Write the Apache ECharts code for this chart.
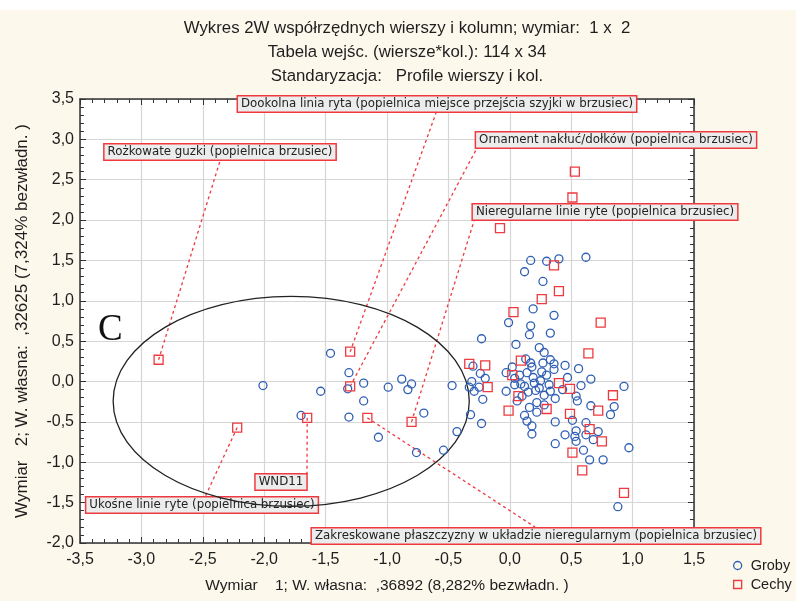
<!DOCTYPE html>
<html>
<head>
<meta charset="utf-8">
<script src="https://cdn.jsdelivr.net/npm/echarts@6/dist/echarts.min.js"></script>
<style>
  html, body { margin: 0; padding: 0; background: #fff; }
  #chart { width: 796px; height: 601px; }
</style>
</head>
<body>
<div id="chart"></div>
<script>
// Wymiar 1 / Wymiar 2 coordinates
const groby = [
  [-1.46, 0.35], [-2.01, -0.05], [-1.54, -0.12], [-1.31, 0.11], [-1.32, -0.09], [-1.19, -0.02],
  [-1.19, -0.24], [-0.99, -0.07], [-0.88, 0.03], [-0.80, -0.03], [-0.83, -0.10], [-0.47, -0.05],
  [-0.70, -0.39], [-1.31, -0.44], [-1.70, -0.42], [-1.07, -0.69], [-0.76, -0.88], [-0.54, -0.85],
  [-0.43, -0.62],
  [0.17, 1.50], [0.30, 1.49], [0.40, 1.52], [0.62, 1.54], [0.12, 1.36], [0.27, 1.24], [0.19, 0.90],
  [0.36, 0.82], [-0.01, 0.73], [0.17, 0.69], [0.16, 0.58], [0.33, 0.60], [-0.23, 0.53], [0.05, 0.46],
  [0.24, 0.42], [0.28, 0.36], [0.33, 0.27], [0.17, 0.23], [0.27, 0.23], [0.36, 0.22], [0.45, 0.20],
  [0.56, 0.16], [0.36, 0.15], [-0.30, 0.19], [-0.24, 0.10], [-0.03, 0.11], [0.14, 0.11], [0.25, 0.01],
  [-0.20, 0.04], [0.04, 0.04], [0.19, 0.05], [0.66, 0.03], [-0.31, 0.00], [-0.33, -0.07], [-0.25, -0.07],
  [0.04, -0.04], [0.09, -0.03], [0.32, -0.04], [0.93, -0.06], [-0.29, -0.12], [-0.03, -0.12], [0.15, -0.13],
  [0.21, -0.11], [0.28, -0.17], [0.37, -0.21], [0.54, -0.18], [-0.22, -0.22],
  [-0.32, -0.41], [-0.23, -0.52], [0.22, -0.26], [0.28, -0.29], [0.22, -0.38], [0.55, -0.24], [0.66, -0.30],
  [0.85, -0.31], [0.82, -0.41], [0.12, -0.42], [0.14, -0.49], [0.18, -0.55], [0.18, -0.65], [0.37, -0.50],
  [0.51, -0.48], [0.62, -0.51], [0.72, -0.62], [0.45, -0.66], [0.54, -0.61], [0.53, -0.68], [0.54, -0.74],
  [0.62, -0.66], [0.68, -0.72], [0.60, -0.85], [0.37, -0.77], [0.97, -0.82], [0.65, -0.97], [0.76, -0.97],
  [0.88, -1.55],
  [0.08, 0.08], [0.12, -0.06], [0.20, -0.02], [0.24, -0.08], [0.10, -0.18], [0.18, 0.18], [0.30, 0.08],
  [0.13, 0.28], [0.43, -0.10], [0.06, -0.24], [0.26, 0.12], [0.02, 0.18], [0.47, 0.05], [0.16, -0.32],
  [0.33, -0.12], [0.58, -0.05]
]

const cechy = [
  [-2.86, 0.27], [-2.22, -0.57], [-1.65, -0.45], [-1.30, 0.37], [-1.30, -0.06], [-1.16, -0.45], [-0.80, -0.50],
  [0.53, 2.60], [0.51, 2.28], [-0.08, 1.90], [0.36, 1.44], [0.40, 1.12], [0.26, 1.02], [0.03, 0.86],
  [0.74, 0.73], [0.64, 0.35], [-0.33, 0.22], [-0.20, 0.20], [0.09, 0.26], [0.02, 0.08], [-0.18, -0.07],
  [0.40, -0.02], [0.49, -0.09], [0.84, -0.17], [0.07, -0.18], [-0.01, -0.36], [0.30, -0.34], [0.49, -0.40],
  [0.72, -0.36], [0.65, -0.59], [0.75, -0.74], [0.51, -0.88], [0.59, -1.10], [0.93, -1.38]
]

// labelled features (index into cechy)
const noteIdx = [0, 1, 2, 3, 4, 5, 6]
const noteText = [
  'Rożkowate guzki (popielnica brzusiec)',
  'Ukośne linie ryte (popielnica brzusiec)',
  'WND11',
  'Dookolna linia ryta (popielnica miejsce przejścia szyjki w brzusiec)',
  'Ornament nakłuć/dołków (popielnica brzusiec)',
  'Zakreskowane płaszczyzny w układzie nieregularnym (popielnica brzusiec)',
  'Nieregularne linie ryte (popielnica brzusiec)'
]

const xTicks = { min: -3.5, max: 1.5, step: 0.5 }
const yTicks = { min: -2.0, max: 3.5, step: 0.5 }

// ellipse around group C: centre and radii in axis units
const ellipseC = [[-1.78, -0.245, 1.45, 1.30]]

// where the label boxes sit (pixels): box centre + point where the leader line meets it
const noteBox = [
  { x: 220, y: 152, ax: 220, ay: 161 },
  { x: 202, y: 505, ax: 205, ay: 497 },
  { x: 281, y: 482, ax: 307, ay: 474 },
  { x: 437, y: 104, ax: 436, ay: 113 },
  { x: 616, y: 140, ax: 477, ay: 148 },
  { x: 536, y: 536, ax: 535, ay: 527 },
  { x: 605, y: 212, ax: 474, ay: 221 }
]

const BLUE = '#2f5fb4'
const RED = '#ee3a3f'
const INK = '#1e1e1e'
const FONT = 'Liberation Sans'
const comma = v => v.toFixed(1).replace('.', ',')

const chart = echarts.init(document.getElementById('chart'))

const baseAxis = {
  type: 'value',
  interval: 0.5,
  axisLine: { onZero: false, lineStyle: { color: '#333', width: 1.5 } },
  axisTick: { inside: true, length: 6, lineStyle: { color: '#333' } },
  minorTick: { show: true, splitNumber: 5, length: 4, lineStyle: { color: '#333' } },
  splitLine: { show: false }
}

const legendItem = (name, icon, color, top) => ({
  orient: 'vertical',
  left: 733,
  top,
  padding: 0,
  itemWidth: 8,
  itemHeight: 8,
  textStyle: { fontFamily: FONT, fontSize: 14.5, color: INK, padding: [0, 0, 0, 4] },
  data: [{ name, icon, itemStyle: { color: 'transparent', borderColor: color, borderWidth: 1.3 } }]
})

const option = {
  backgroundColor: '#fdf8ec',
  animation: false,
  title: {
    text: 'Wykres 2W współrzędnych wierszy i kolumn; wymiar:  1 x  2\nTabela wejśc. (wiersze*kol.): 114 x 34\nStandaryzacja:   Profile wierszy i kol.',
    left: 407,
    top: 16,
    padding: 0,
    textAlign: 'center',
    textStyle: { fontFamily: FONT, fontSize: 16.8, fontWeight: 'normal', color: INK, lineHeight: 24 }
  },
  graphic: [
    { type: 'rect', left: 0, top: 0, shape: { width: 796, height: 10 }, style: { fill: '#fff' }, silent: true },
    { type: 'text', left: 98, top: 312, style: { text: 'C', font: '37px "Liberation Serif"', fill: '#111' }, z: 50 }
  ],
  legend: [
    legendItem('Groby', 'circle', BLUE, 558),
    legendItem('Cechy', 'rect', RED, 577)
  ],
  grid: { left: 80, right: 102, top: 99, bottom: 58, show: true, backgroundColor: '#fff', borderWidth: 0 },
  xAxis: [
    Object.assign({}, baseAxis, {
      position: 'bottom', min: xTicks.min, max: xTicks.max,
      name: 'Wymiar    1; W. własna:  ,36892 (8,282% bezwładn. )',
      nameLocation: 'middle', nameGap: 35,
      nameTextStyle: { fontFamily: FONT, fontSize: 15.5, color: INK },
      axisLabel: { formatter: comma, margin: 9, fontFamily: FONT, fontSize: 16, color: INK },
      splitLine: { show: true, lineStyle: { color: '#d6d6d6', width: 1.2 } }
    }),
    Object.assign({}, baseAxis, {
      position: 'top', min: xTicks.min, max: xTicks.max, axisLabel: { show: false }
    })
  ],
  yAxis: [
    Object.assign({}, baseAxis, {
      position: 'left', min: yTicks.min, max: yTicks.max,
      name: 'Wymiar   2; W. własna:  ,32625 (7,324% bezwładn. )',
      nameLocation: 'middle', nameGap: 49, nameRotate: 90,
      nameTextStyle: { fontFamily: FONT, fontSize: 17, color: INK },
      axisLabel: { formatter: comma, margin: 6, fontFamily: FONT, fontSize: 16, color: INK },
      splitLine: { show: true, lineStyle: { color: '#d6d6d6', width: 1.2 } }
    }),
    Object.assign({}, baseAxis, {
      position: 'right', min: yTicks.min, max: yTicks.max, axisLabel: { show: false }
    })
  ],
  series: [
    {
      name: 'notes',
      type: 'custom',
      z: 3,
      data: noteIdx.map(i => cechy[i]),
      renderItem(params, api) {
        const i = params.dataIndex
        const p = api.coord([api.value(0), api.value(1)])
        const b = noteBox[i]
        return {
          type: 'group',
          children: [
            {
              type: 'line',
              shape: { x1: p[0], y1: p[1], x2: b.ax, y2: b.ay },
              style: { stroke: RED, lineWidth: 1.3, lineDash: [3, 3] }
            },
            {
              type: 'text',
              x: b.x,
              y: b.y,
              style: {
                text: noteText[i],
                font: '11.8px "DejaVu Sans"',
                fill: '#222',
                align: 'center',
                verticalAlign: 'middle',
                backgroundColor: '#ececec',
                borderColor: RED,
                borderWidth: 1.5,
                padding: [2, 3, 1, 3]
              }
            }
          ]
        }
      }
    },
    {
      name: 'ellipse',
      type: 'custom',
      z: 4,
      data: ellipseC,
      renderItem(params, api) {
        const c = api.coord([api.value(0), api.value(1)])
        const r = api.size([api.value(2), api.value(3)])
        return {
          type: 'ellipse',
          shape: { cx: c[0], cy: c[1], rx: r[0], ry: r[1] },
          style: { fill: null, stroke: '#222', lineWidth: 1.3 }
        }
      }
    },
    {
      name: 'Groby',
      type: 'scatter',
      z: 5,
      symbol: 'circle',
      symbolSize: 8,
      data: groby,
      itemStyle: { color: 'transparent', borderColor: BLUE, borderWidth: 1.3, opacity: 1 }
    },
    {
      name: 'Cechy',
      type: 'scatter',
      z: 6,
      symbol: 'rect',
      symbolSize: 9,
      data: cechy,
      itemStyle: { color: 'transparent', borderColor: RED, borderWidth: 1.3, opacity: 1 }
    }
  ]
}

chart.setOption(option)
</script>
</body>
</html>
